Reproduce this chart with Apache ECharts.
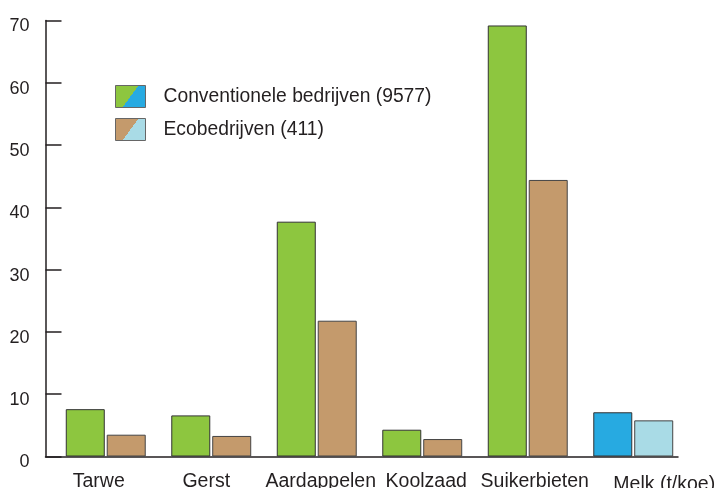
<!DOCTYPE html>
<html>
<head>
<meta charset="utf-8">
<script src="https://cdn.jsdelivr.net/npm/echarts@6/dist/echarts.min.js"></script>
<style>
  html, body { margin: 0; padding: 0; background: #fff; }
  #chart { width: 724px; height: 488px; }
</style>
</head>
<body>
<div id="chart"></div>
<script>
// data
var categories = ['Tarwe', 'Gerst', 'Aardappelen', 'Koolzaad', 'Suikerbieten', 'Melk (t/koe)']
var conventioneel = [7.6, 6.6, 37.7, 4.3, 69.2, 7.1]
var eco = [3.5, 3.3, 21.8, 2.8, 44.4, 5.8]
var yMin = 0
var yMax = 70
var yStep = 10

var seriesNames = ['Conventionele bedrijven (9577)', 'Ecobedrijven (411)']
var milkCategory = 'Melk (t/koe)'

// colours
var green = '#8dc63f'
var brown = '#c49a6c'
var blue = '#27aae1'
var lightBlue = '#a9dbe6'
var ink = '#231f20'
var font = 'Liberation Sans, Arial, sans-serif'

// labels are not centred under the bars in the original
var labelShift = [-7, -5, 4, 4, 7, 31]

function withMilkColor(values, color) {
  return values.map(function (v, i) {
    if (categories[i] === milkCategory) {
      return { value: v, itemStyle: { color: color } }
    }
    return v
  })
}

function splitIcon(a, b) {
  return new echarts.graphic.LinearGradient(0, 0, 1, 1, [
    { offset: 0, color: a },
    { offset: 0.5, color: a },
    { offset: 0.5, color: b },
    { offset: 1, color: b }
  ])
}

var rich = {}
labelShift.forEach(function (s, i) {
  rich['c' + i] = {
    fontSize: 19.5,
    fontFamily: font,
    color: ink,
    padding: s >= 0 ? [i === 5 ? 3 : 0, 0, 0, 2 * s] : [0, -2 * s, 0, 0]
  }
})

var chart = echarts.init(document.getElementById('chart'), null, { renderer: 'canvas' })

chart.setOption({
  animation: false,
  textStyle: { fontFamily: font },
  grid: [
    { left: 53, right: 38, top: 20.5, bottom: 31.5, outerBoundsMode: 'none' },
    { left: 45.5, right: 46, top: 20.5, bottom: 31.5, outerBoundsMode: 'none' }
  ],
  legend: {
    orient: 'vertical',
    left: 115,
    top: 85,
    padding: 0,
    itemWidth: 30,
    itemHeight: 22,
    itemGap: 10,
    selectedMode: false,
    textStyle: { fontSize: 19.3, color: ink, padding: [0, 0, 0, 13] },
    data: [
      { name: seriesNames[0], icon: 'rect', itemStyle: { color: splitIcon(green, blue), borderColor: '#666', borderWidth: 1 } },
      { name: seriesNames[1], icon: 'rect', itemStyle: { color: splitIcon(brown, lightBlue), borderColor: '#666', borderWidth: 1 } }
    ]
  },
  xAxis: [
    {
      type: 'category',
      gridIndex: 0,
      data: categories,
      axisLine: { show: false },
      axisTick: { show: false },
      axisLabel: {
        margin: 15,
        interval: 0,
        formatter: function (val, i) {
          return '{c' + i + '|' + val + '}'
        },
        rich: rich
      }
    },
    {
      type: 'category',
      gridIndex: 1,
      data: categories,
      axisLine: { show: true, lineStyle: { color: ink, width: 1.5 } },
      axisTick: { show: false },
      axisLabel: { show: false }
    }
  ],
  yAxis: [
    {
      type: 'value',
      gridIndex: 0,
      min: yMin,
      max: yMax,
      interval: yStep,
      show: false
    },
    {
      type: 'value',
      gridIndex: 1,
      min: yMin,
      max: yMax,
      interval: yStep,
      axisLine: { show: true, lineStyle: { color: ink, width: 1.5 } },
      axisTick: { show: true, inside: true, length: 16, lineStyle: { color: ink, width: 1.5 } },
      splitLine: { show: false },
      axisLabel: {
        margin: 16,
        formatter: function (v) {
          return '{t|' + v + '}'
        },
        rich: {
          t: { fontSize: 18, fontFamily: font, color: ink, padding: [12, 0, 0, 0] }
        }
      }
    }
  ],
  series: [
    {
      name: seriesNames[0],
      type: 'bar',
      xAxisIndex: 0,
      yAxisIndex: 0,
      barWidth: 39,
      barGap: '5%',
      itemStyle: { color: green, borderColor: '#333', borderWidth: 1 },
      data: withMilkColor(conventioneel, blue)
    },
    {
      name: seriesNames[1],
      type: 'bar',
      xAxisIndex: 0,
      yAxisIndex: 0,
      barWidth: 39,
      barGap: '5%',
      itemStyle: { color: brown, borderColor: '#444', borderWidth: 1 },
      data: withMilkColor(eco, lightBlue)
    }
  ]
})
</script>
</body>
</html>
